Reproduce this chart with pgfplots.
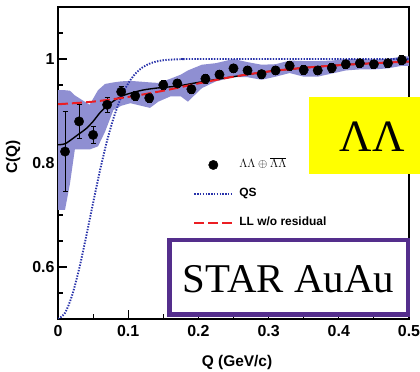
\documentclass[border=0pt]{standalone}
\usepackage{pgfplots}
\pgfplotsset{compat=1.18}
\usepackage{fontspec}
\setmainfont{Liberation Sans}
\newfontfamily\timesf{Liberation Serif}
\definecolor{bandcol}{RGB}{143,143,210}
\definecolor{qsblue}{RGB}{40,50,170}
\definecolor{llred}{RGB}{235,30,35}
\definecolor{starpurple}{RGB}{84,46,140}
\definecolor{yel}{RGB}{255,255,0}
\begin{document}
\begin{tikzpicture}
\useasboundingbox (0,0) rectangle (420bp,372bp);
\begin{axis}[
  at={(58bp,53bp)}, anchor=south west,
  width=351bp, height=312bp, scale only axis,
  xmin=0, xmax=0.5, ymin=0.5, ymax=1.1,
  xtick={0,0.1,0.2,0.3,0.4,0.5},
  minor xtick={0.05,0.15,0.25,0.35,0.45},
  ytick={0.6,0.8,1},
  minor ytick={0.55,0.65,0.7,0.75,0.85,0.9,0.95,1.05},
  xtick pos=bottom, ytick pos=left,
  tick align=inside,
  major tick length=9bp, minor tick length=5bp,
  tick style={black, line width=1.1bp},
  axis line style={line width=1.5bp},
  /pgf/number format/assume math mode=true,
  ticklabel style={font=\fontsize{16}{18}\selectfont\bfseries},
  xticklabel style={yshift=-3bp},
  xlabel={Q (GeV/c)}, ylabel={C(Q)},
  label style={font=\fontsize{15.5}{18}\selectfont\bfseries},
  xlabel style={at={(axis description cs:0.51,-0.141)}, anchor=center},
  ylabel style={at={(axis description cs:-0.128,0.519)}, anchor=center},
  legend style={at={(axis description cs:0.385,0.52)}, anchor=north west,
    draw=none, fill=none, inner sep=0pt, row sep=13bp,
    font=\fontsize{12}{14}\selectfont\bfseries,
    nodes={inner sep=2bp, text height=9bp, text depth=3bp},
    cells={anchor=west},
    /tikz/every odd column/.append style={column sep=4bp}},
  legend image code/.code={\draw[#1] (0bp,0bp) -- (38bp,0bp);},
]
% shaded band
\addplot[fill=bandcol, draw=none, forget plot] coordinates {
(0.000,0.940) (0.010,0.940) (0.017,0.939) (0.024,0.930) (0.045,0.912)
(0.057,0.940) (0.067,0.952) (0.079,0.955) (0.090,0.957) (0.103,0.958)
(0.131,0.955) (0.143,0.954) (0.160,0.962) (0.175,0.970) (0.185,0.978)
(0.205,0.989) (0.225,0.992) (0.250,1.000) (0.270,0.994) (0.290,0.989)
(0.310,0.990) (0.330,0.997) (0.350,0.996) (0.370,0.996) (0.390,0.997)
(0.410,1.000) (0.430,1.000) (0.450,0.999) (0.470,1.000) (0.490,1.005)
(0.500,1.005)
(0.500,0.987) (0.490,0.987) (0.470,0.982) (0.450,0.980) (0.430,0.980)
(0.410,0.978) (0.390,0.972) (0.370,0.966) (0.350,0.966) (0.330,0.973)
(0.310,0.966) (0.290,0.960) (0.270,0.965) (0.250,0.965) (0.225,0.957)
(0.205,0.944) (0.185,0.918) (0.175,0.928) (0.160,0.928) (0.143,0.918)
(0.131,0.906) (0.103,0.915) (0.090,0.910) (0.079,0.902) (0.067,0.860)
(0.057,0.832) (0.045,0.826) (0.024,0.826) (0.017,0.760) (0.010,0.710)
(0.000,0.710)
} -- cycle;
% black fit curve
\addplot[black, line width=1.4bp, smooth, forget plot] coordinates {
(0.000,0.835) (0.010,0.837) (0.020,0.846) (0.030,0.856) (0.040,0.866)
(0.050,0.880) (0.060,0.897) (0.070,0.910) (0.080,0.920) (0.090,0.928)
(0.100,0.933) (0.120,0.940) (0.140,0.944) (0.170,0.948) (0.200,0.955)
(0.250,0.966) (0.300,0.976) (0.350,0.983) (0.400,0.988) (0.450,0.992)
(0.500,0.995)
};
% data points
\addplot[only marks, mark=*, mark size=4.7bp, black,
  legend image code/.code={\draw[mark repeat=2,mark phase=2,##1] plot coordinates {(0bp,0bp) (19bp,0bp) (38bp,0bp)};},
  error bars/.cd, y dir=both, y explicit,
  error bar style={black, line width=0.8bp},
  error mark options={rotate=90, mark size=2.5bp, line width=0.8bp}]
  table[x=Q, y=C, y error=E] {
Q C E
0.01 0.822 0.077
0.03 0.880 0.032
0.05 0.854 0.016
0.07 0.912 0.014
0.09 0.937 0.010
0.11 0.929 0.008
0.13 0.925 0.008
0.15 0.950 0.008
0.17 0.953 0.008
0.19 0.942 0.008
0.21 0.962 0.008
0.23 0.970 0.008
0.25 0.982 0.008
0.27 0.978 0.008
0.29 0.971 0.008
0.31 0.978 0.008
0.33 0.987 0.008
0.35 0.979 0.008
0.37 0.978 0.008
0.39 0.983 0.008
0.41 0.990 0.008
0.43 0.992 0.008
0.45 0.990 0.008
0.47 0.992 0.008
0.49 0.998 0.008
};
\addlegendentry{\fontsize{12}{14}\selectfont$\Lambda\Lambda\oplus\overline{\Lambda\Lambda}$}
% QS curve
\addplot[qsblue, line width=1.9bp, dash pattern=on 1.4bp off 1.4bp, smooth] coordinates {
(0.000,0.5000) (0.010,0.5117) (0.020,0.5452) (0.030,0.5959) (0.040,0.6577)
(0.050,0.7233) (0.060,0.7867) (0.070,0.8432) (0.080,0.8901) (0.090,0.9265)
(0.100,0.9531) (0.110,0.9715) (0.120,0.9835) (0.130,0.9908) (0.140,0.9952)
(0.150,0.9976) (0.160,0.9988) (0.180,0.9998) (0.200,1.0000) (0.500,1.0000)
};
\addlegendentry{QS}
% LL w/o residual
\addplot[llred, line width=2bp, dash pattern=on 10bp off 4bp, smooth] coordinates {
(0.00,0.913) (0.05,0.918) (0.10,0.927) (0.15,0.939) (0.20,0.953)
(0.25,0.966) (0.30,0.976) (0.35,0.983) (0.40,0.988) (0.45,0.992)
(0.50,0.995)
};
\addlegendentry{LL w/o residual}
\end{axis}
% yellow label box
\fill[yel] (309bp,198bp) rectangle (425bp,275bp);
\node[font=\timesf\fontsize{45}{50}\selectfont] at (372bp,235bp) {ΛΛ};
% STAR AuAu box
\draw[starpurple, line width=4.5bp, fill=white] (169.25bp,57.25bp) rectangle (407.75bp,131.75bp);
\node[font=\timesf\fontsize{41}{46}\selectfont] at (288.5bp,93bp) {STAR AuAu};
\end{tikzpicture}
\end{document}
